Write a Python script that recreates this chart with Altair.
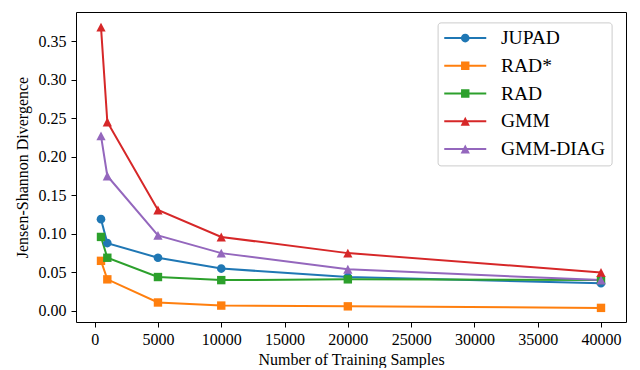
import altair as alt
import pandas as pd

# ---- data ----
samples = [500, 1000, 5000, 10000, 20000, 40000]
series_names = ["JUPAD", "RAD*", "RAD", "GMM", "GMM-DIAG"]
jupad = [0.119, 0.088, 0.069, 0.055, 0.044, 0.036]
rad_star = [0.065, 0.041, 0.011, 0.007, 0.006, 0.004]
rad = [0.096, 0.069, 0.044, 0.040, 0.041, 0.040]
gmm = [0.368, 0.245, 0.131, 0.096, 0.075, 0.050]
gmm_diag = [0.227, 0.175, 0.098, 0.075, 0.054, 0.040]

x_ticks = [0, 5000, 10000, 15000, 20000, 25000, 30000, 35000, 40000]
y_ticks = [0.0, 0.05, 0.10, 0.15, 0.20, 0.25, 0.30, 0.35]

colors = ["#1f77b4", "#ff7f0e", "#2ca02c", "#d62728", "#9467bd"]

# marker shapes (custom SVG paths, unit = sqrt(size)/2 px)
circle = "M0.62,0A0.62,0.62,0,1,1,-0.62,0A0.62,0.62,0,1,1,0.62,0Z"
square = "M-0.6,-0.6H0.6V0.6H-0.6Z"
triangle = "M0,-0.64L0.66,0.64L-0.66,0.64Z"
markers = [circle, square, square, triangle, triangle]
line_seg = "M-3,-0.15H3V0.15H-3Z "
legend_symbols = [line_seg + m for m in markers]

values = [jupad, rad_star, rad, gmm, gmm_diag]
rows = []
for name, vals in zip(series_names, values):
    for s, v in zip(samples, vals):
        rows.append({"samples": s, "value": v, "series": name})
df = pd.DataFrame(rows)

font = "Liberation Serif"

x_enc = alt.X(
    "samples:Q",
    scale=alt.Scale(domain=[-1475, 41975], nice=False, zero=False),
    axis=alt.Axis(values=x_ticks, title="Number of Training Samples", format="d",
                  labelFont=font, titleFont=font,
                  labelPadding=4, titlePadding=4),
)
y_enc = alt.Y(
    "value:Q",
    scale=alt.Scale(domain=[-0.0143, 0.3876], nice=False, zero=False),
    axis=alt.Axis(values=y_ticks, format=".2f", title="Jensen-Shannon Divergence",
                  labelFont=font, titleFont=font,
                  labelPadding=5, titlePadding=8),
)

color_scale = alt.Scale(domain=series_names, range=colors)

base = alt.Chart(df).encode(x=x_enc, y=y_enc)

lines = base.mark_line(strokeWidth=2).encode(
    color=alt.Color("series:N", scale=color_scale, legend=None)
)

points = base.mark_point(filled=True, size=196, opacity=1).encode(
    color=alt.Color("series:N", scale=color_scale, legend=None),
    shape=alt.Shape("series:N", scale=alt.Scale(domain=series_names, range=markers), legend=None),
)

legend_kw = dict(
    orient="none",
    legendX=361.6,
    legendY=10.4,
    title=None,
    labelFont=font,
    labelFontSize=19.5,
    labelColor="black",
    symbolSize=196,
    symbolOffset=12,
    labelOffset=26,
    rowPadding=6.75,
    padding=5.9,
    strokeColor="#cccccc",
    fillColor="white",
    cornerRadius=3,
    symbolOpacity=1,
    symbolStrokeWidth=0,
)

legend_layer = base.mark_point(filled=True, size=196, opacity=0).encode(
    color=alt.Color("series:N", scale=color_scale, legend=alt.Legend(**legend_kw)),
    shape=alt.Shape("series:N", scale=alt.Scale(domain=series_names, range=legend_symbols),
                    legend=alt.Legend(**legend_kw)),
)

chart = (
    alt.layer(lines, points, legend_layer)
    .resolve_scale(shape="independent", color="independent")
    .properties(
        width=550,
        height=310,
        autosize=alt.AutoSizeParams(type="none"),
        padding={"left": 68, "top": 4, "right": 6, "bottom": 46},
    )
    .configure(
        font=font,
        style={"guide-label": {"font": font}, "guide-title": {"font": font}},
    )
    .configure_view(stroke="black", strokeWidth=1)
    .configure_axisX(labelFont=font, titleFont=font)
    .configure_axisY(labelFont=font, titleFont=font)
    .configure_axis(
        grid=False,
        domain=False,
        labelFont=font,
        titleFont=font,
        labelFontSize=16,
        titleFontSize=16,
        titleFontWeight="normal",
        labelColor="black",
        titleColor="black",
        tickColor="black",
        tickSize=5,
        tickWidth=1,
    )
)

chart.save("out.html", embed_options={"renderer": "svg", "actions": False})
